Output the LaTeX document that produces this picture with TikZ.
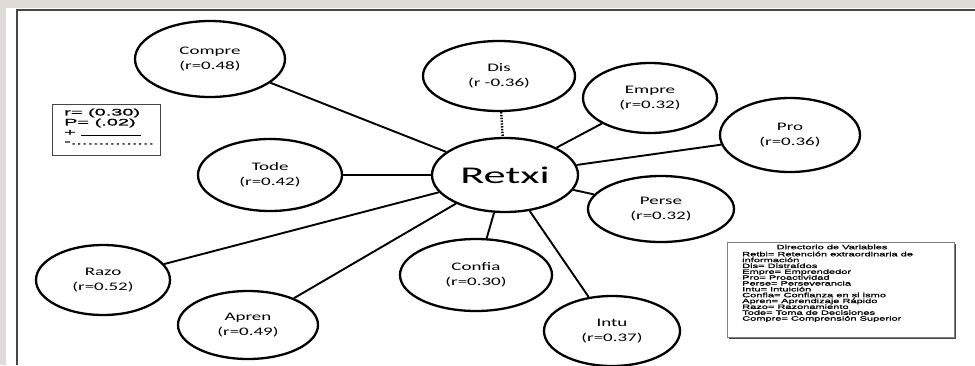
\documentclass[tikz,border=0pt]{standalone}
\usepackage{fontspec}
\usetikzlibrary{shapes.geometric}
\newfontfamily\labfont[FakeStretch=1.65]{Carlito}
\newfontfamily\retfont[FakeStretch=1.85]{Carlito}
\newfontfamily\legfont[FakeStretch=2.1,FakeBold=1.2]{Liberation Sans}
\newfontfamily\dirfont[FakeStretch=1.78,FakeBold=1.2]{Liberation Sans}
\definecolor{bggrey}{RGB}{223,220,216}
\definecolor{framegrey}{RGB}{70,70,70}
\begin{document}
\begin{tikzpicture}[x=1pt,y=-1pt,
  var/.style={ellipse, draw, line width=2.3pt, inner sep=0pt, align=center,
    font=\labfont\fontsize{11.5}{15}\selectfont},
  link/.style={line width=1.9pt},
  legline/.style={anchor=west, inner sep=0pt, font=\legfont\fontsize{9.5}{10}\selectfont},
  dirline/.style={inner sep=0pt, font=\dirfont\fontsize{6.2}{5.85}\selectfont}]
\useasboundingbox (0,0) rectangle (975,365);
\fill[bggrey] (0,0) rectangle (975,365);
\fill[white] (6,8) rectangle (975,365);
\draw[line width=1.6pt, framegrey] (17,365) -- (17,10) -- (975,10);

% variable ellipses
\node[var, minimum width=150pt, minimum height=76pt] (compre) at (210,59) {Compre\\(r=0.48)};
\node[var, minimum width=152pt, minimum height=70pt] (dis) at (499,76) {Dis\\(r -0.36)};
\node[var, minimum width=134pt, minimum height=70pt] (empre) at (650,98) {Empre\\(r=0.32)};
\node[var, minimum width=140pt, minimum height=74pt] (pro) at (790,135) {Pro\\(r=0.36)};
\node[var, minimum width=144pt, minimum height=72pt] (tode) at (270,175) {Tode\\(r=0.42)};
\node[var, minimum width=146pt, minimum height=66pt] (perse) at (661,209) {Perse\\(r=0.32)};
\node[var, minimum width=134pt, minimum height=70pt] (razo) at (103,280) {Razo\\(r=0.52)};
\node[var, minimum width=152pt, minimum height=72pt] (confia) at (476,275) {Confia\\(r=0.30)};
\node[var, minimum width=140pt, minimum height=68pt] (apren) at (248,325) {Apren\\(r=0.49)};
\node[var, minimum width=136pt, minimum height=70pt] (intu) at (612,331) {Intu\\(r=0.37)};
\node[ellipse, draw, line width=2.3pt, inner sep=0pt, minimum width=146pt, minimum height=74pt,
  font=\retfont\fontsize{24}{26}\selectfont] (retxi) at (505,175) {Retxi};

% connectors
\draw[link] (retxi) -- (compre);
\draw[link] (retxi) -- (tode);
\draw[link] (retxi) -- (razo);
\draw[link] (retxi) -- (apren);
\draw[link] (retxi) -- (confia);
\draw[link] (retxi) -- (intu);
\draw[link] (retxi) -- (perse);
\draw[link] (retxi) -- (pro);
\draw[link] (retxi) -- (empre);
\draw[line width=2.4pt, dash pattern=on 1.4pt off 1.4pt] (dis) -- (retxi);

% legend r / P
\draw[line width=1pt, framegrey] (52,104) rectangle (160,155);
\node[legline] (l1) at (64,113) {r= (0.30)};
\node[legline] (l2) at (64,123) {P= (.02)};
\node[legline] (l3) at (64,133) {+ \rule[-0.5pt]{60pt}{1.1pt}};
\node[legline] (l4) at (64,143) {-...............};

% directory of variables
\fill[framegrey] (729,244) rectangle (956,339);
\draw[line width=0.8pt, fill=white, draw=gray] (727,242) rectangle (954,337);
\node[dirline] (dtitle) at (832,247) {Directorio de Variables};
\node[dirline, anchor=north west, align=left] (dbody) at (742,251.5) {Retbi= Retención extraordinaria de\\
información\\
Dis= Distraídos\\
Empre= Emprendedor\\
Pro= Proactividad\\
Perse= Perseverancia\\
Intu= Intuición\\
Confia= Confianza en si ismo\\
Apren= Aprendizaje Rápido\\
Razo= Razonamiento\\
Tode= Toma de Decisiones\\
Compre= Comprensión Superior};
\end{tikzpicture}
\end{document}
